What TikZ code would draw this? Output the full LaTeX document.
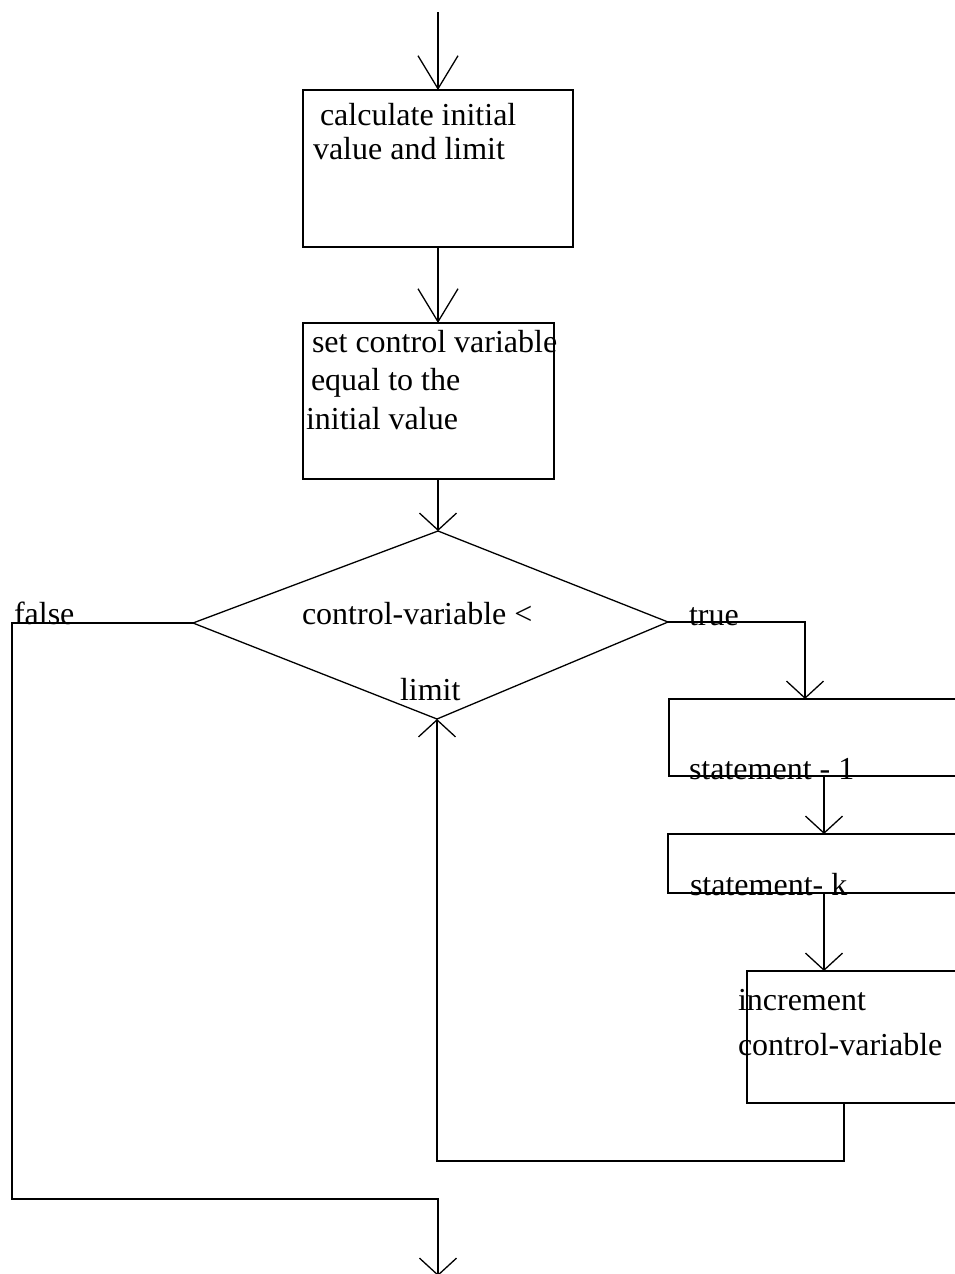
\documentclass[tikz,border=0pt]{standalone}
\usepackage{fontspec}
\setmainfont{Liberation Serif}
\usetikzlibrary{arrows.meta}

\begin{document}
\begin{tikzpicture}[x=1pt,y=-1pt,
  line width=1.3pt,
  every node/.style={inner sep=0pt, outer sep=0pt},
  procbox/.style={draw, rectangle, anchor=north west},
  txt/.style={font=\fontsize{32}{34}\selectfont, align=left},
  arr/.style={-{Straight Barb[length=17pt,width=37pt,line width=1.3pt]}},
  arrlong/.style={-{Straight Barb[length=33pt,width=40pt,line width=1.3pt]}}]

\useasboundingbox (0,0) rectangle (955,1274);
\clip (0,0) rectangle (955,1274);

% process boxes (the three on the right run off the page edge)
\node[procbox, minimum width=270pt, minimum height=157pt] (b1) at (303,90) {};
\node[procbox, minimum width=251pt, minimum height=156pt] (b2) at (303,323) {};
\node[procbox, minimum width=400pt, minimum height=77pt]  (b3) at (669,699) {};
\node[procbox, minimum width=400pt, minimum height=59pt]  (b4) at (668,834) {};
\node[procbox, minimum width=300pt, minimum height=132pt] (b5) at (747,971) {};

% decision diamond
\coordinate (dT) at (438,531);
\coordinate (dL) at (193,623);
\coordinate (dR) at (668,622);
\coordinate (dB) at (437,719);
\draw (dT) -- (dR) -- (dB) -- (dL) -- cycle;

% box texts
\node[txt, anchor=north west] (t1) at (313,103)
  {\hspace*{7pt}calculate initial\\value and limit};
\node[txt, anchor=north west, font=\fontsize{32}{38.5}\selectfont] (t2) at (306,330)
  {\hspace*{6pt}set control variable\\\hspace*{5pt}equal to the\\initial value};
\node[txt, anchor=base west] (t3) at (689,779) {statement - 1};
\node[txt, anchor=base west] (t4) at (690,895) {statement- k};
\node[txt, anchor=north west, font=\fontsize{32}{45}\selectfont] (t5) at (738,989)
  {increment\\control-variable};

% decision texts and branch labels
\node[txt, anchor=base west] (cond1) at (302,624) {control-variable <};
\node[txt, anchor=base west] (cond2) at (400,700) {limit};
\node[txt, anchor=base west] (lfalse) at (14,624) {false};
\node[txt, anchor=base west] (ltrue) at (689,625) {true};

% connectors
\coordinate (entry) at (438,12);
\draw[arrlong] (entry) -- ([xshift=135pt]b1.north west);
\draw[arrlong] ([xshift=135pt]b1.south west) -- ([xshift=135pt]b2.north west);
\draw[arr] ([xshift=135pt]b2.south west) -- (dT);
\draw[arr] (dR) -| ([xshift=136pt]b3.north west);
\draw[arr] ([xshift=155pt]b3.south west) -- ([xshift=156pt]b4.north west);
\draw[arr] ([xshift=156pt]b4.south west) -- ([xshift=77pt]b5.north west);
\coordinate (loopturn) at (844,1161);
\draw[arr] ([xshift=97pt]b5.south west) -- (loopturn) -| (dB);
\coordinate (fcorner) at (12,623);
\coordinate (fbottom) at (12,1199);
\coordinate (exit) at (438,1276);
\draw[arr] (dL) -- (fcorner) -- (fbottom) -| (exit);

\end{tikzpicture}
\end{document}
